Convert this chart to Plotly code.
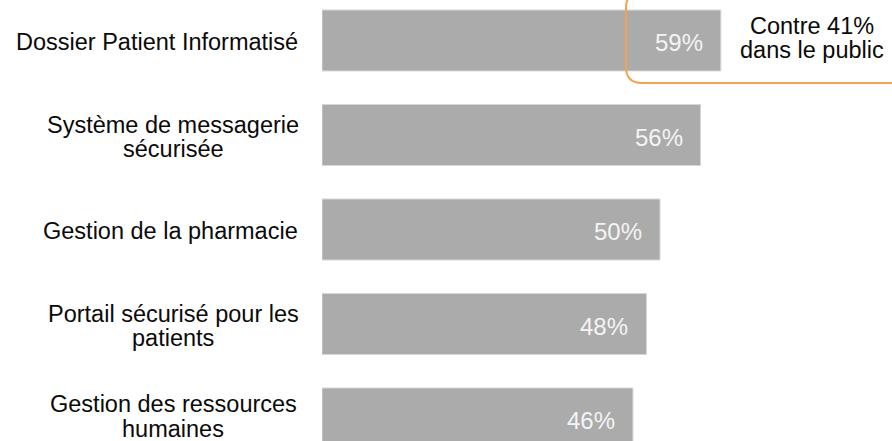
import plotly.graph_objects as go

# ---- data ----
categories = [
    "Dossier Patient Informatisé",
    "Système de messagerie<br>sécurisée",
    "Gestion de la pharmacie",
    "Portail sécurisé pour les<br>patients",
    "Gestion des ressources<br>humaines",
]
values = [59, 56, 50, 48, 46]
value_labels = ["59%", "56%", "50%", "48%", "46%"]
callout_lines = ["Contre 41%", "dans le public"]

# ---- layout geometry (pixels) ----
W, H = 892, 441
L = 322
PW = W - L
FONT = "Liberation Sans, Arial, sans-serif"


def px_x(px):
    return (px - L) / PW


def px_y(py):
    return 1 - py / H


idx = list(range(len(categories)))

fig = go.Figure()
fig.add_trace(go.Bar(
    x=values,
    y=idx,
    orientation="h",
    width=0.645,
    marker=dict(color="#ABABAB", line=dict(color="#D6D6D6", width=1)),
    hoverinfo="skip",
))

annotations = []
# value labels inside bars
for i, (v, t) in enumerate(zip(values, value_labels)):
    annotations.append(dict(
        x=v, y=i, xref="x", yref="y", text=t, showarrow=False,
        xanchor="right", yanchor="middle", xshift=-16, yshift=-2,
        font=dict(family=FONT, size=24, color="#F4F4F4"),
    ))

# category labels (left)
PITCH = 24.5
label_nudge = [0, 0, 0, 0, 4]  # small vertical tweaks (px, upward)
for i, lab in enumerate(categories):
    lines = lab.split("<br>")
    if len(lines) == 1:
        annotations.append(dict(
            x=px_x(300), y=i, xref="paper", yref="y", text=lines[0],
            showarrow=False, xanchor="right", yanchor="middle", yshift=-1,
            font=dict(family=FONT, size=23.5, color="#0A0A0A"),
        ))
    else:
        n = len(lines)
        for k, ln in enumerate(lines):
            off = (k - (n - 1) / 2) * PITCH
            annotations.append(dict(
                x=px_x(173), y=i, xref="paper", yref="y", text=ln,
                showarrow=False, xanchor="center", yanchor="middle",
                yshift=-off - 2 + label_nudge[i],
                font=dict(family=FONT, size=23.5, color="#0A0A0A"),
            ))

# callout text
for k, ln in enumerate(callout_lines):
    annotations.append(dict(
        x=px_x(812), y=px_y(26 + k * PITCH), xref="paper", yref="paper",
        text=ln, showarrow=False, xanchor="center", yanchor="middle",
        font=dict(family=FONT, size=23.5, color="#0A0A0A"),
    ))

# rounded callout box (left + bottom edges visible)
r = 16
x0, y0, x1, y1 = 626, -8, 905, 83
path = (
    f"M {px_x(x1)},{px_y(y1)} "
    f"L {px_x(x0 + r)},{px_y(y1)} "
    f"Q {px_x(x0)},{px_y(y1)} {px_x(x0)},{px_y(y1 - r)} "
    f"L {px_x(x0)},{px_y(y0 + r)} "
    f"Q {px_x(x0)},{px_y(y0)} {px_x(x0 + r)},{px_y(y0)} "
    f"L {px_x(x1)},{px_y(y0)}"
)
shapes = [dict(type="path", path=path, xref="paper", yref="paper",
               line=dict(color="#F4A24F", width=2), layer="above")]

fig.update_layout(
    width=W, height=H,
    margin=dict(l=L, r=0, t=0, b=0, pad=0),
    paper_bgcolor="white", plot_bgcolor="white",
    showlegend=False,
    xaxis=dict(range=[0, PW / 6.76], visible=False, fixedrange=True),
    yaxis=dict(range=[(H - 40.5) / 94.5, -40.5 / 94.5], visible=False,
               fixedrange=True),
    annotations=annotations,
    shapes=shapes,
)

fig.write_html(
    "out.html",
    config={"displayModeBar": False},
    post_script="document.body.style.margin='0';document.body.style.overflow='hidden';",
)
